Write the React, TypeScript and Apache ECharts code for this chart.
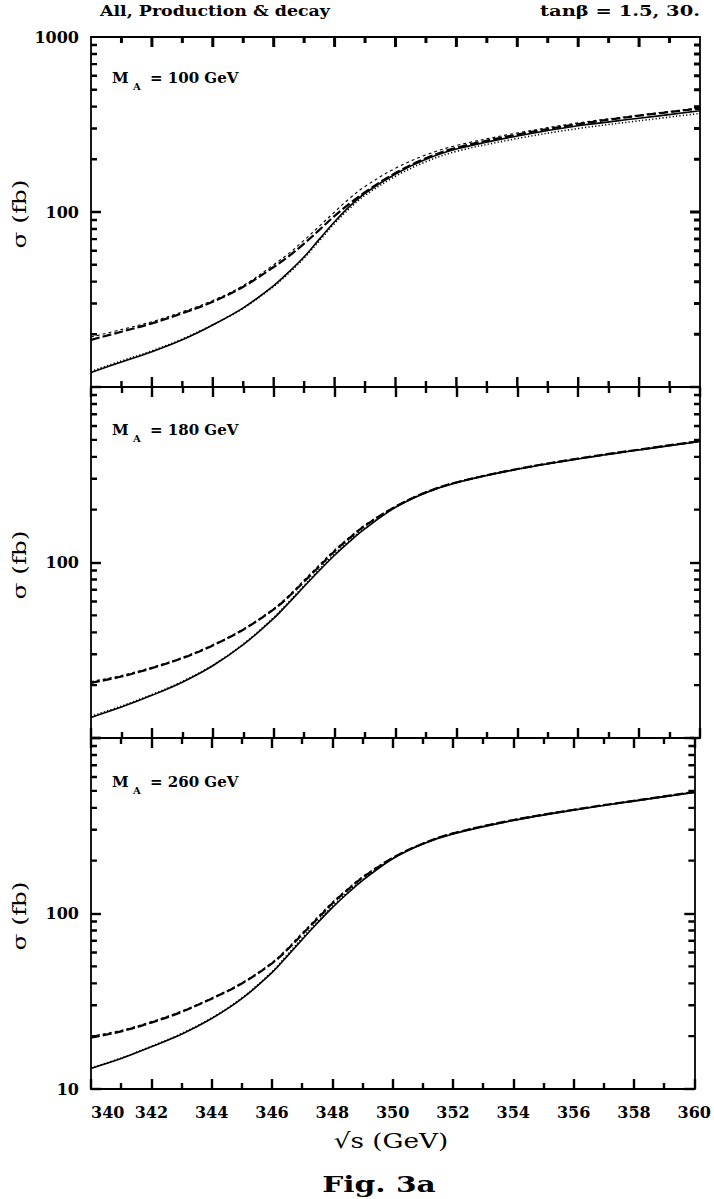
import React, { useEffect, useRef } from "react";
import * as echarts from "echarts";

// sqrt(s) in GeV
const X = [340, 341, 342, 343, 344, 345, 346, 346.5, 347, 347.5, 348, 348.5, 349, 350, 351, 352, 354, 356, 358, 360];

// Panel 1: M_A = 100 GeV
const p1Solid = [12.1, 13.9, 15.9, 18.6, 22.6, 28.3, 38, 45.5, 55.5, 70, 88, 108, 128, 165, 200, 229, 272, 311, 343, 379];
const p1Dotted = [12.3, 14.1, 16.1, 18.8, 22.7, 28.2, 37.5, 44.8, 54.5, 68.5, 86, 105, 124.5, 160, 194, 222, 263, 300, 332, 366];
const p1Dashed = [18.6, 20.7, 23.1, 26.4, 30.7, 37.4, 48.5, 56, 66, 79, 95, 112, 130, 167, 203, 233, 277, 318, 355, 390];
const p1Short = [19.3, 21.3, 23.6, 26.9, 31.2, 38.0, 50, 58, 69, 83, 100, 120, 140, 178, 212, 240, 283, 323, 358, 394];

// Panel 2: M_A = 180 GeV
const p2Solid = [13.1, 15.0, 17.5, 20.8, 25.8, 34.0, 48, 59, 73, 90, 110, 132, 156, 206, 250, 285, 340, 389, 438, 489];
const p2Dotted = [13.3, 15.2, 17.7, 21.0, 26.0, 34.3, 48.6, 59.8, 74, 91.5, 112, 134, 158, 207, 251, 286, 341, 390, 439, 491];
const p2Dashed = [20.6, 22.4, 25.0, 28.5, 33.7, 41.4, 54, 64, 78, 95, 116, 138, 162, 208, 251, 286, 341, 391, 440, 492];
const p2Short = [21.0, 22.7, 25.3, 28.8, 34.0, 41.8, 54.6, 65, 79.5, 97, 118, 140, 164, 209, 252, 287, 342, 392, 441, 493];

// Panel 3: M_A = 260 GeV
const p3Solid = [13.1, 14.9, 17.4, 20.5, 25.2, 32.7, 46, 57, 71, 88, 108, 130, 154, 205, 249, 284, 339, 388, 437, 490];
const p3Dotted = [13.2, 15.0, 17.5, 20.7, 25.4, 33.0, 46.6, 58, 72.5, 89.5, 110, 132, 156, 206, 250, 285, 340, 389, 438, 491];
const p3Dashed = [19.6, 21.3, 23.9, 27.5, 32.7, 39.9, 52, 62, 76, 93, 114, 136, 160, 207, 250, 286, 341, 390, 439, 492];
const p3Short = [20.0, 21.6, 24.2, 27.8, 33.0, 40.3, 52.6, 63, 77.5, 95, 116, 138, 162, 208, 251, 287, 342, 391, 440, 493];

const panelLabels = ["100", "180", "260"];
const xTicks = [341, 342, 343, 344, 345, 346, 347, 348, 349, 350, 351, 352, 353, 354, 355, 356, 357, 358, 359];
const yMinorTicks = [20, 30, 40, 50, 60, 70, 80, 90, 200, 300, 400, 500, 600, 700, 800, 900];
const yAllTicks = [20, 30, 40, 50, 60, 70, 80, 90, 100, 200, 300, 400, 500, 600, 700, 800, 900];

const FONT = "DejaVu Serif";
const PLOT_W = 609;

const GRIDS = [
  { top: 37, height: 350 },
  { top: 387, height: 351 },
  { top: 738, height: 351 },
];

export default function App() {
  const ref = useRef<HTMLDivElement>(null);
  useEffect(() => {
    if (!ref.current) return;
    const chart = echarts.init(ref.current, undefined, { renderer: "svg" });
    const panels = [
      [p1Solid, p1Dotted, p1Dashed, p1Short],
      [p2Solid, p2Dotted, p2Dashed, p2Short],
      [p3Solid, p3Dotted, p3Dashed, p3Short],
    ];
    const styles = [
      { type: "solid", width: 1.6 },
      { type: [1.2, 2.2], width: 1.6 },
      { type: [9, 3], width: 2.2 },
      { type: [3, 3], width: 1.1 },
    ];
    const grid: any[] = [];
    const xAxis: any[] = [];
    const yAxis: any[] = [];
    const series: any[] = [];
    const segSeries = (i: number, segs: number[][][], width: number) => {
      const data: any[] = [];
      segs.forEach((s) => data.push(s[0], s[1], [s[1][0], null]));
      return {
        type: "line",
        xAxisIndex: i,
        yAxisIndex: i,
        data,
        symbol: "none",
        lineStyle: { color: "#000", width },
      };
    };
    const useAxisTicks = (i: number) => i > 0;
    const tickStyle = (len: number) => ({
      show: true,
      inside: true,
      length: len,
      lineStyle: { color: "#000", width: 2.4 },
    });
    GRIDS.forEach((g, i) => {
      grid.push({ left: 91, width: PLOT_W, top: g.top, height: g.height });
      const isBottom = i === 2;
      const at = useAxisTicks(i);
      xAxis.push({
        type: "value",
        gridIndex: i,
        min: 340,
        max: 360,
        interval: 2,
        axisLine: { show: true, lineStyle: { color: "#000", width: 1.8 } },
        axisTick: at ? tickStyle(10) : { show: false },
        minorTick: at ? { show: true, splitNumber: 2, length: 6, lineStyle: { color: "#000", width: 2.4 } } : { show: false },
        splitLine: { show: false },
        minorSplitLine: { show: false },
        axisLabel: {
          show: isBottom,
          margin: 15,
          color: "#000",
          fontFamily: FONT,
          fontWeight: "bold",
          fontSize: 16,
          alignMinLabel: "left",
        },
      });
      yAxis.push({
        type: "log",
        logBase: 10,
        gridIndex: i,
        min: 10,
        max: 1000,
        axisLine: { show: true, lineStyle: { color: "#000", width: 1.8 } },
        axisTick: at ? tickStyle(10) : { show: false },
        splitLine: { show: false },
        axisLabel: {
          margin: 12,
          color: "#000",
          fontFamily: FONT,
          fontWeight: "bold",
          fontSize: 16,
          formatter: (v: number) => {
            const r = Math.round(v);
            if (i === 0) return r === 10 ? "" : String(r);
            if (i === 1) return r === 100 ? String(r) : "";
            return r === 1000 ? "" : String(r);
          },
        },
      });
      panels[i].forEach((ys, k) => {
        series.push({
          type: "line",
          xAxisIndex: i,
          yAxisIndex: i,
          data: X.map((x, j) => [x, ys[j]]),
          smooth: 0.35,
          symbol: "none",
          lineStyle: { color: "#000", width: styles[k].width, type: styles[k].type },
        });
      });
      const pxPerDecade = g.height / 2;
      const up = (px: number) => Math.pow(10, px / pxPerDecade);
      const dx = (px: number) => (px * 20) / PLOT_W;
      const xLen = (x: number) => (x % 2 === 0 ? 10 : 6);
      const yLen = (v: number) => (v === 100 ? 10 : 6);
      if (!at) {
        const bottom: number[][][] = [];
        const top: number[][][] = [];
        const left: number[][][] = [];
        const right: number[][][] = [];
        xTicks.forEach((x) => {
          bottom.push([[x, 10], [x, 10 * up(xLen(x))]]);
          top.push([[x, 1000], [x, 1000 / up(xLen(x))]]);
        });
        yAllTicks.forEach((v) => {
          left.push([[340, v], [340 + dx(yLen(v)), v]]);
          right.push([[360, v], [360 - dx(yLen(v)), v]]);
        });
        series.push(segSeries(i, bottom, 2.4), segSeries(i, top, 3), segSeries(i, left, 2.4), segSeries(i, right, 3));
      } else {
        const left: number[][][] = [];
        const right: number[][][] = [];
        yMinorTicks.forEach((v) => {
          left.push([[340, v], [340 + dx(6), v]]);
          right.push([[360, v], [360 - dx(6), v]]);
        });
        series.push(segSeries(i, left, 2.4), segSeries(i, right, 2.4));
      }
    });
    // top and right frame sides
    GRIDS.forEach((g, i) => {
      const at = useAxisTicks(i);
      xAxis.push({
        type: "value",
        gridIndex: i,
        min: 340,
        max: 360,
        interval: 2,
        position: "top",
        axisLine: { show: true, lineStyle: { color: "#000", width: 1.8 } },
        axisTick: at ? tickStyle(10) : { show: false },
        minorTick: at ? { show: true, splitNumber: 2, length: 6, lineStyle: { color: "#000", width: 2.4 } } : { show: false },
        splitLine: { show: false },
        minorSplitLine: { show: false },
        axisLabel: { show: false },
      });
      yAxis.push({
        type: "log",
        logBase: 10,
        gridIndex: i,
        min: 10,
        max: 1000,
        position: "right",
        axisLine: { show: true, lineStyle: { color: "#000", width: 1.8 } },
        axisTick: at ? tickStyle(10) : { show: false },
        splitLine: { show: false },
        axisLabel: { show: false },
      });
    });

    const boldT = (t: string, x: number, y: number, size: number, sx: number, align = "left") => ({
      type: "text",
      x,
      y,
      scaleX: sx,
      style: {
        text: t,
        fill: "#000",
        font: `bold ${size}px "${FONT}"`,
        align,
        verticalAlign: "middle",
      },
    });
    const graphic: any[] = [
      boldT("All, Production & decay", 100, 11, 15, 1.16),
      boldT("tanβ = 1.5, 30.", 700, 11, 15, 1.3, "right"),
      boldT("Fig. 3a", 379, 1184, 22, 1.35, "center"),
      {
        type: "text",
        x: 391,
        y: 1141,
        scaleX: 1.25,
        style: { text: "√s (GeV)", fill: "#000", font: `21px "${FONT}"`, align: "center", verticalAlign: "middle" },
      },
    ];
    const labelOffsets = [GRIDS[0].top + 41, GRIDS[1].top + 43, GRIDS[2].top + 44];
    const sigmaY = [214, 565, 916];
    labelOffsets.forEach((y, i) => {
      graphic.push(boldT("M", 112, y, 15, 1));
      graphic.push(boldT("A", 133, y + 8, 10, 1));
      graphic.push(boldT(`= ${panelLabels[i]} GeV`, 150, y, 15, 1));
      graphic.push({
        type: "text",
        x: 20,
        y: sigmaY[i],
        rotation: Math.PI / 2,
        scaleX: 1.3,
        style: { text: "σ (fb)", fill: "#000", font: `19px "${FONT}"`, align: "center", verticalAlign: "middle" },
      });
    });

    chart.setOption({
      animation: false,
      backgroundColor: "#fff",
      grid,
      xAxis,
      yAxis,
      series,
      graphic,
    });
    return () => chart.dispose();
  }, []);
  return <div ref={ref} style={{ position: "fixed", left: 0, top: 0, width: 714, height: 1199 }} />;
}
